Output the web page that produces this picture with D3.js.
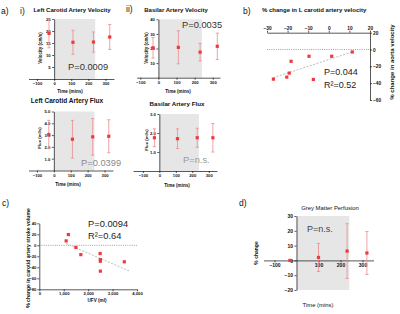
<!DOCTYPE html>
<html>
<head>
<meta charset="utf-8">
<script src="https://cdn.jsdelivr.net/npm/d3@7"></script>
<style>
  html, body { margin: 0; padding: 0; background: #fff; }
  svg { display: block; }
</style>
</head>
<body>
<script>
// ---- data ----
const shadeWindow = [0, 240];
const timeTicks = [-100, 0, 100, 200, 300];

const visitTimes = [-30, 110, 230, 325];
const lcaVelMean = [19, 15.3, 15.4, 17.5];
const lcaVelErr = [6, 5, 4.2, 5.2];
const baVelMean = [20.5, 20.8, 17.5, 21.5];
const baVelErr = [7, 11.3, 6, 9];
const lcaFluxMean = [3.05, 2.65, 2.85, 2.9];
const lcaFluxErr = [1.2, 1.6, 1.55, 1.4];
const baFluxMean = [1.75, 1.7, 1.75, 1.75];
const baFluxErr = [0.47, 0.52, 0.5, 0.75];

const gmTimes = [-30, 100, 230, 320];
const gmMean = [0, 2, 6.3, 5];
const gmErr = [0, 9.5, 18.5, 14.5];

// panel b: % change L carotid velocity vs % change aorta velocity
const lcaChange = [-26.9, -20.4, -19.2, -18.3, -9.6, -7.5, 1.4, 11.4];
const aortaChange = [-35.2, -32.8, -28, -14, -8, -35.6, -8, -2.9];
const bFitX = [-27, 11.4];
const bFitY = [-33.5, -2.9];

// panel c: UFV vs % change carotid stroke volume
const ufv = [1100, 1190, 1500, 1700, 2490, 2500, 2500, 2500, 3480];
const svChange = [8, 19.5, -4, -17, -15, -26, -29, -47, -30];
const cFitX = [1100, 3700];
const cFitY = [3, -47];

// ---- drawing ----
const W = 400, H = 314;
const FONT = "Liberation Sans, Arial, sans-serif";
const RED = "#ee3a3f", ERR = "#f08a8d";

const svg = d3.select("body").append("svg").attr("width", W).attr("height", H);
svg.append("rect").attr("width", W).attr("height", H).attr("fill", "#fff");

function txt(x, y, s, size, opts) {
  opts = opts || {};
  const t = svg.append("text").attr("x", x).attr("y", y)
    .attr("font-family", FONT).attr("font-size", size)
    .attr("font-weight", opts.bold ? "bold" : "normal")
    .attr("fill", opts.fill || "#111")
    .attr("text-anchor", opts.anchor || "start").text(s);
  if (opts.rotate) t.attr("transform", "rotate(-90," + x + "," + y + ")");
  return t;
}

function styleAxis(g, size) {
  g.attr("font-family", FONT).attr("font-size", size).attr("font-weight", "bold");
  g.selectAll("path.domain").attr("stroke", "#111").attr("stroke-width", 0.7);
  g.selectAll(".tick line").attr("stroke", "#111").attr("stroke-width", 0.7);
  g.selectAll(".tick text").attr("fill", "#111");
}

function timePanel(o) {
  const x = d3.scaleLinear().domain(o.xDomain).range(o.xRange);
  const y = d3.scaleLinear().domain(o.yDomain).range(o.yRange);
  const g = svg.append("g");

  g.append("rect")
    .attr("x", x(shadeWindow[0])).attr("width", x(shadeWindow[1]) - x(shadeWindow[0]))
    .attr("y", y(o.yDomain[1])).attr("height", y(o.yDomain[0]) - y(o.yDomain[1]))
    .attr("fill", "#e6e6e6");

  const xa = g.append("g").attr("transform", "translate(0," + y(0) + ")")
    .call(d3.axisBottom(x).tickValues(o.xTicks).tickSize(2).tickSizeOuter(0).tickPadding(1.5));
  styleAxis(xa, o.tickSize);
  const ya = g.append("g").attr("transform", "translate(" + x(0) + ",0)")
    .call(d3.axisLeft(y).tickValues(o.yTicks).tickSize(2).tickSizeOuter(0).tickPadding(1.5));
  styleAxis(ya, o.tickSize);

  const pts = o.times.map((t, i) => ({ t: t, m: o.means[i], e: o.errs[i] }));
  const eb = g.selectAll(".eb").data(pts.filter(d => d.e > 0)).enter().append("g")
    .attr("stroke", ERR).attr("stroke-width", 0.8);
  eb.append("line").attr("x1", d => x(d.t)).attr("x2", d => x(d.t))
    .attr("y1", d => y(Math.min(d.m + d.e, o.yDomain[1]))).attr("y2", d => y(d.m - d.e));
  eb.append("line").attr("x1", d => x(d.t) - 1.6).attr("x2", d => x(d.t) + 1.6)
    .attr("y1", d => y(Math.min(d.m + d.e, o.yDomain[1]))).attr("y2", d => y(Math.min(d.m + d.e, o.yDomain[1])));
  eb.append("line").attr("x1", d => x(d.t) - 1.6).attr("x2", d => x(d.t) + 1.6)
    .attr("y1", d => y(d.m - d.e)).attr("y2", d => y(d.m - d.e));
  g.selectAll(".pt").data(pts).enter().append("rect")
    .attr("x", d => x(d.t) - 1.6).attr("y", d => y(d.m) - 1.6)
    .attr("width", 3.2).attr("height", 3.2).attr("fill", RED);

  txt(o.title[1], o.title[2], o.title[0], o.title[3], { bold: o.title[4], anchor: "middle" });
  txt(o.xLabel[1], o.xLabel[2], o.xLabel[0], o.xLabel[3], { bold: o.xLabel[4], anchor: "middle" });
  txt(o.yLabel[1], o.yLabel[2], o.yLabel[0], o.yLabel[3], { bold: true, anchor: "middle", rotate: true });
  txt(o.p[1], o.p[2], o.p[0], o.p[3], { fill: o.p[4] });
}

// a) i) Left carotid artery velocity
timePanel({
  xDomain: [-150, 350], xRange: [28.5, 114], yDomain: [0, 25], yRange: [79, 19],
  xTicks: timeTicks, yTicks: [5, 10, 15, 20, 25], tickSize: 4.2,
  times: visitTimes, means: lcaVelMean, errs: lcaVelErr,
  title: ["Left Carotid Artery Velocity", 72, 11.5, 6, true],
  xLabel: ["Time (mins)", 70, 93, 4.6, true],
  yLabel: ["Velocity (cm/s)", 42, 48, 4.5],
  p: ["P=0.0009", 68, 70, 9.3, "#333"]
});
// a) ii) Basilar artery velocity
timePanel({
  xDomain: [-120, 340], xRange: [136.7, 220], yDomain: [0, 40], yRange: [77.7, 19.3],
  xTicks: timeTicks, yTicks: [10, 20, 30, 40], tickSize: 4.2,
  times: visitTimes, means: baVelMean, errs: baVelErr,
  title: ["Basilar Artery Velocity", 176, 12, 6, true],
  xLabel: ["Time (mins)", 178, 92.5, 4.6, true],
  yLabel: ["Velocity (cm/s)", 148, 48, 4.5],
  p: ["P=0.0035", 182, 27.5, 9.3, "#333"]
});
// Left carotid artery flux
timePanel({
  xDomain: [-150, 350], xRange: [28.5, 113], yDomain: [0, 5], yRange: [170.5, 111.5],
  xTicks: timeTicks, yTicks: [1, 2, 3, 4, 5], tickSize: 4.2,
  times: visitTimes, means: lcaFluxMean, errs: lcaFluxErr,
  title: ["Left Carotid Artery Flux", 67, 102.5, 6.5, true],
  xLabel: ["Time (mins)", 68, 186, 4.6, true],
  yLabel: ["Flux (ml/s)", 41, 138, 4.3],
  p: ["P=0.0399", 81, 166, 9.3, "#8a8a8a"]
});
// Basilar artery flux
timePanel({
  xDomain: [-160, 350], xRange: [133, 217], yDomain: [0, 3], yRange: [171, 114],
  xTicks: timeTicks, yTicks: [1, 2, 3], tickSize: 4.2,
  times: visitTimes, means: baFluxMean, errs: baFluxErr,
  title: ["Basilar Artery Flux", 177, 106, 6.2, true],
  xLabel: ["Time (mins)", 177, 186.5, 4.6, true],
  yLabel: ["Flux (ml/s)", 148, 140, 4.3],
  p: ["P=n.s.", 183, 163, 9.3, "#999"]
});
// d) Grey matter perfusion
timePanel({
  xDomain: [-150, 350], xRange: [263.5, 373.5], yDomain: [-20, 30], yRange: [290, 216],
  xTicks: [-100, 100, 200, 300], yTicks: [-20, -10, 0, 10, 20, 30], tickSize: 5,
  times: gmTimes, means: gmMean, errs: gmErr,
  title: ["Grey Matter Perfusion", 330, 209.5, 5.9, false],
  xLabel: ["Time (mins)", 318, 307, 5.9, false],
  yLabel: ["% change", 258, 253, 5],
  p: ["P=n.s.", 307, 232, 9, "#444"]
});

// b) scatter
(function () {
  const x = d3.scaleLinear().domain([-30, 20]).range([267, 370]);
  const y = d3.scaleLinear().domain([-60, 20]).range([100, 32.7]);
  const g = svg.append("g");
  g.append("line").attr("x1", x(-30)).attr("x2", x(20)).attr("y1", y(0)).attr("y2", y(0))
    .attr("stroke", "#777").attr("stroke-width", 0.7).attr("stroke-dasharray", "1 1.2");
  const xa = g.append("g").attr("transform", "translate(0," + y(20) + ")")
    .call(d3.axisTop(x).tickValues([-30, -20, -10, 0, 10, 20]).tickSize(2).tickSizeOuter(0).tickPadding(1));
  styleAxis(xa, 4.8);
  const ya = g.append("g").attr("transform", "translate(" + x(20) + ",0)")
    .call(d3.axisRight(y).tickValues([20, 0, -20, -40, -60]).tickSize(2).tickSizeOuter(0).tickPadding(1));
  styleAxis(ya, 4.8);
  g.append("line").attr("x1", x(bFitX[0])).attr("x2", x(bFitX[1]))
    .attr("y1", y(bFitY[0])).attr("y2", y(bFitY[1]))
    .attr("stroke", "#aaa").attr("stroke-width", 0.8).attr("stroke-dasharray", "2 1.5");
  g.selectAll(".pt").data(lcaChange.map((v, i) => [v, aortaChange[i]])).enter().append("rect")
    .attr("x", d => x(d[0]) - 1.6).attr("y", d => y(d[1]) - 1.6)
    .attr("width", 3.2).attr("height", 3.2).attr("fill", RED);
  txt(262, 12, "% change in L carotid artery velocity", 6, { bold: true });
  txt(394, 62, "% change in aorta velocity", 6, { bold: true, anchor: "middle", rotate: true });
  txt(324, 75, "P=0.044", 9, { fill: "#222" });
  txt(324, 88, "R\u00b2=0.52", 9, { fill: "#222" });
})();

// c) scatter
(function () {
  const x = d3.scaleLinear().domain([0, 4000]).range([39.3, 137]);
  const y = d3.scaleLinear().domain([-80, 40]).range([289.3, 223.3]);
  const g = svg.append("g");
  g.append("line").attr("x1", x(0)).attr("x2", x(4000)).attr("y1", y(0)).attr("y2", y(0))
    .attr("stroke", "#777").attr("stroke-width", 0.7).attr("stroke-dasharray", "1 1.2");
  const xa = g.append("g").attr("transform", "translate(0," + y(-80) + ")")
    .call(d3.axisBottom(x).tickValues([0, 1000, 2000, 3000, 4000]).tickSize(2).tickSizeOuter(0).tickPadding(1));
  styleAxis(xa, 4.2);
  const ya = g.append("g").attr("transform", "translate(" + x(0) + ",0)")
    .call(d3.axisLeft(y).tickValues([-80, -60, -40, -20, 0, 20, 40]).tickSize(2).tickSizeOuter(0).tickPadding(1));
  styleAxis(ya, 4.2);
  g.append("line").attr("x1", x(cFitX[0])).attr("x2", x(cFitX[1]))
    .attr("y1", y(cFitY[0])).attr("y2", y(cFitY[1]))
    .attr("stroke", "#aaa").attr("stroke-width", 0.8).attr("stroke-dasharray", "2 1.5");
  g.selectAll(".pt").data(ufv.map((v, i) => [v, svChange[i]])).enter().append("rect")
    .attr("x", d => x(d[0]) - 1.6).attr("y", d => y(d[1]) - 1.6)
    .attr("width", 3.2).attr("height", 3.2).attr("fill", RED);
  txt(97, 302, "UFV (ml)", 4.6, { bold: true, anchor: "middle" });
  txt(29.5, 258, "% change in carotid artery stroke volume", 5.1, { bold: true, anchor: "middle", rotate: true });
  txt(88, 227, "P=0.0094", 9.3, { fill: "#222" });
  txt(88, 238.5, "R\u00b2=0.64", 9.3, { fill: "#222" });
})();

// panel letters
txt(1, 13.5, "a)", 8.5);
txt(20, 13.5, "i)", 8.5);
txt(126, 12, "ii)", 8.5);
txt(243, 14, "b)", 8.5);
txt(2, 206, "c)", 8.5);
txt(239, 206, "d)", 8.5);
</script>
</body>
</html>
